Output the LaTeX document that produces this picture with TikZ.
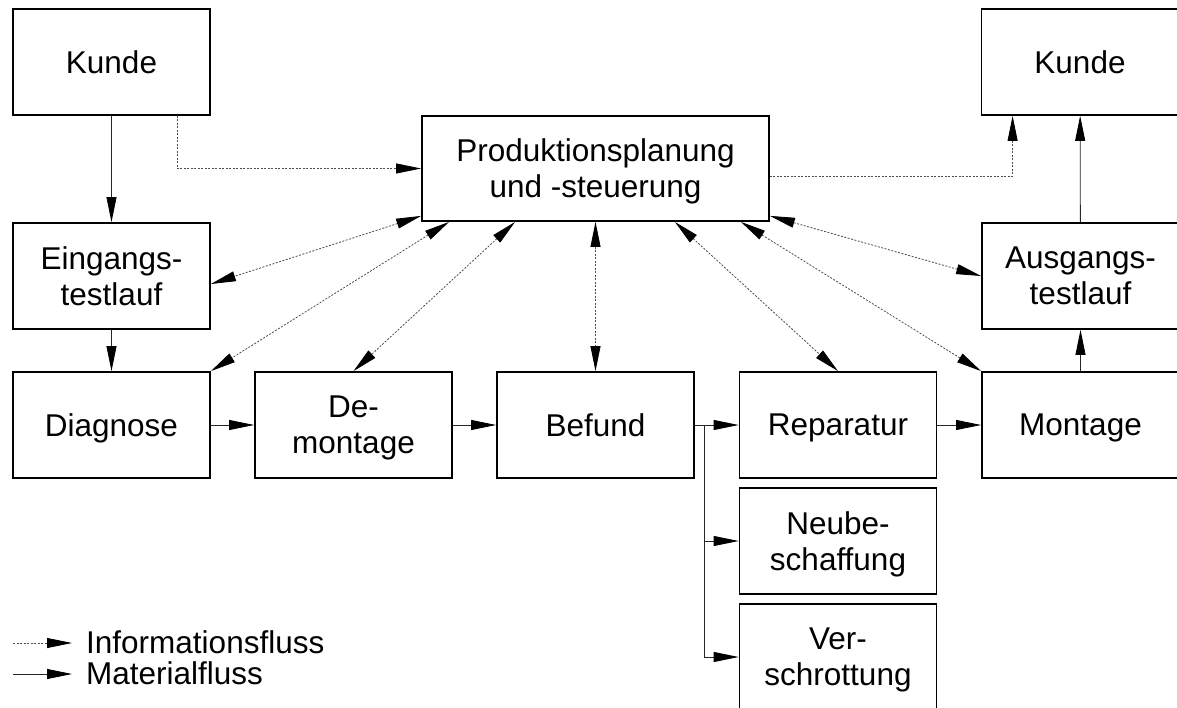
\documentclass[tikz,border=0pt]{standalone}
\usepackage{fontspec}
\setmainfont{Liberation Sans}
\usetikzlibrary{arrows.meta}
\begin{document}
\begin{tikzpicture}[x=1pt,y=-1pt,
  box/.style={draw,line width=1.8pt,minimum width=197pt,minimum height=106pt,inner sep=0pt,text depth=0pt,align=center,font=\fontsize{31.5}{36}\selectfont},
  mat/.style={line width=.8pt,black!85,-{Triangle[length=25pt,width=10pt,color=black]}},
  info/.style={line width=.8pt,black!70,dash pattern=on 2pt off 1.5pt,-{Triangle[length=25pt,width=10pt,color=black]}},
  infoboth/.style={info,{Triangle[length=25pt,width=10pt,color=black]}-{Triangle[length=25pt,width=10pt,color=black]}},
  legend/.style={anchor=base west,inner sep=0pt,font=\fontsize{31.5}{36}\selectfont}]
\useasboundingbox (0,0) rectangle (1177,708);
\node[box] (kundeL) at (111.5,62) {Kunde};
\node[box] (kundeR) at (1080,62) {Kunde};
\node[box,minimum width=347pt,minimum height=105pt] (pps) at (595.5,168.5) {Produktionsplanung\\und -steuerung};
\node[box] (eingang) at (111.5,276) {Eingangs-\\testlauf};
\node[box] (ausgang) at (1080.5,276) {Ausgangs-\\testlauf};
\node[box] (diagnose) at (111.5,425) {Diagnose};
\node[box] (demontage) at (353.5,425) {De-\\montage};
\node[box] (befund) at (595.5,425) {Befund};
\node[box] (reparatur) at (838,425) {Reparatur};
\node[box] (montage) at (1080.5,425) {Montage};
\node[box] (neu) at (838,541) {Neube-\\schaffung};
\node[box] (schrott) at (838,657) {Ver-\\schrottung};
\coordinate (split) at (704,425);
\draw[mat] (kundeL) -- (eingang);
\draw[mat] (eingang) -- (diagnose);
\draw[mat] (diagnose) -- (demontage);
\draw[mat] (demontage) -- (befund);
\draw[mat] (befund) -- (reparatur);
\draw[mat] (split) |- (neu.west);
\draw[mat] (split) |- (schrott.west);
\draw[mat] (reparatur) -- (montage);
\draw[mat] (montage) -- (ausgang);
\draw[mat] (ausgang) -- (kundeR);
\draw[info] ([xshift=-34pt]kundeL.south east) |- (pps.west);
\draw[info] ([yshift=-8pt]pps.east) -| ([xshift=32pt]kundeR.south west);
\draw[infoboth] ([yshift=6pt]pps.south west) -- ([yshift=-8pt]eingang.east);
\draw[infoboth] ([xshift=28pt]pps.south west) -- (diagnose.north east);
\draw[infoboth] ([xshift=94pt]pps.south west) -- (demontage.north);
\draw[infoboth] (pps.south) -- (befund.north);
\draw[infoboth] ([xshift=-95pt]pps.south east) -- (reparatur.north);
\draw[infoboth] ([xshift=-29pt]pps.south east) -- (montage.north west);
\draw[infoboth] ([yshift=6pt]pps.south east) -- (ausgang.west);
\coordinate (li0) at (13,643);
\coordinate (li1) at (72,643);
\coordinate (lm0) at (13,674);
\coordinate (lm1) at (72,674);
\draw[info] (li0) -- (li1);
\draw[mat] (lm0) -- (lm1);
\node[legend] (linfo) at (86,653) {Informationsfluss};
\node[legend] (lmat) at (86,684) {Materialfluss};
\end{tikzpicture}
\end{document}
